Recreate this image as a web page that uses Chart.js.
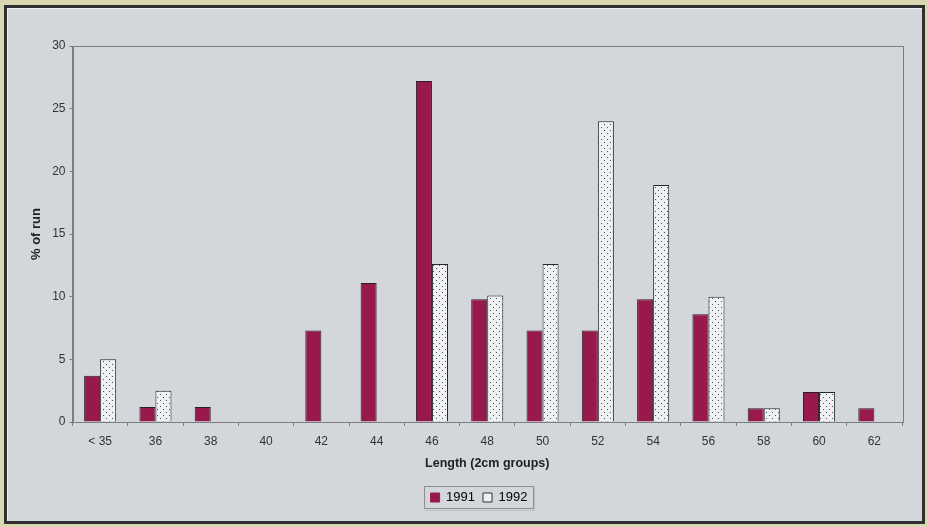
<!DOCTYPE html>
<html>
<head>
<meta charset="utf-8">
<script src="https://cdn.jsdelivr.net/npm/chart.js@4/dist/chart.umd.min.js"></script>
<style>
  html, body { margin: 0; padding: 0; background: #d9d7b2; width: 928px; height: 527px; overflow: hidden; }
  .frame {
    position: absolute; left: 4px; top: 5px; width: 915px; height: 513px;
    border: 3px solid #2e2f2f; background: #d3d6db;
    box-shadow: inset 1px 1px 0 #eef0f0;
  }
  #chart { position: absolute; left: 0; top: 0; }
</style>
</head>
<body>
<div class="frame"></div>
<canvas id="chart" width="928" height="527"></canvas>
<script>
// Length groups (2 cm) and share of the run in each, per year
const categories = ['< 35', '36', '38', '40', '42', '44', '46', '48', '50', '52', '54', '56', '58', '60', '62'];
const values1991 = [3.7, 1.2, 1.2, 0, 7.3, 11.1, 27.2, 9.8, 7.3, 7.3, 9.8, 8.6, 1.1, 2.4, 1.1];
const values1992 = [5.0, 2.5, 0, 0, 0, 0, 12.6, 10.1, 12.6, 24.0, 18.9, 10.0, 1.1, 2.4, 0];
const seriesLabels = ['1991', '1992'];
const yTicks = [0, 5, 10, 15, 20, 25, 30];

// Dotted fill for the second series
function dotPattern() {
  const c = document.createElement('canvas');
  c.width = 6; c.height = 6;
  const g = c.getContext('2d');
  g.fillStyle = '#eef0f2';
  g.fillRect(0, 0, 6, 6);
  g.fillStyle = '#4f5257';
  g.fillRect(1, 1, 1, 1);
  g.fillRect(4, 4, 1, 1);
  return g.createPattern(c, 'repeat');
}

const FONT = "'Liberation Sans', Arial, sans-serif";
const MAROON = '#981a4d';
const LEGEND_SHIFT = 28;

// Box round the plot area and a frame round the legend
const framePlugin = {
  id: 'framePlugin',
  afterLayout(chart) {
    if (chart.legend) {
      chart.legend.left += LEGEND_SHIFT;
      chart.legend.right += LEGEND_SHIFT;
    }
  },
  afterDraw(chart) {
    const { ctx, chartArea: a } = chart;
    ctx.save();
    ctx.strokeStyle = '#7b7d80';
    ctx.lineWidth = 1;
    ctx.strokeRect(Math.round(a.left) + 0.5, Math.round(a.top) + 0.5,
                   Math.round(a.right - a.left), Math.round(a.bottom - a.top));
    const boxes = chart.legend && chart.legend.legendHitBoxes;
    if (boxes && boxes.length) {
      const minX = Math.min(...boxes.map(b => b.left));
      const maxX = Math.max(...boxes.map(b => b.left + b.width));
      const minY = Math.min(...boxes.map(b => b.top));
      const maxY = Math.max(...boxes.map(b => b.top + b.height));
      ctx.strokeStyle = '#8c8e92';
      ctx.strokeRect(Math.round(minX - 7) + 0.5, Math.round(minY - 5) + 0.5,
                     Math.round(maxX - minX + 12), Math.round(maxY - minY + 9));
      ctx.strokeStyle = '#b9bbbf';
      ctx.beginPath();
      ctx.moveTo(Math.round(minX - 6) + 0.5, Math.round(maxY + 5) + 1.5);
      ctx.lineTo(Math.round(maxX + 6) + 1.5, Math.round(maxY + 5) + 1.5);
      ctx.lineTo(Math.round(maxX + 6) + 1.5, Math.round(minY - 4) + 0.5);
      ctx.stroke();
    }
    ctx.restore();
  }
};

new Chart(document.getElementById('chart'), {
  type: 'bar',
  data: {
    labels: categories,
    datasets: [
      {
        label: seriesLabels[0],
        data: values1991,
        backgroundColor: MAROON,
        borderColor: '#2d1f26',
        borderWidth: ctx => (ctx.raw ? 1 : 0),
        categoryPercentage: 0.58,
        barPercentage: 1.0
      },
      {
        label: seriesLabels[1],
        data: values1992,
        backgroundColor: dotPattern(),
        borderColor: '#25272a',
        borderWidth: ctx => (ctx.raw ? 1 : 0),
        categoryPercentage: 0.58,
        barPercentage: 1.0
      }
    ]
  },
  options: {
    responsive: false,
    animation: false,
    layout: { padding: { left: 0, top: 46, right: 26, bottom: 13 } },
    plugins: {
      tooltip: { enabled: false },
      legend: {
        position: 'bottom',
        labels: {
          color: '#222',
          font: { family: FONT, size: 13 },
          boxWidth: 9,
          boxHeight: 9,
          padding: 8,
          generateLabels(chart) {
            return chart.data.datasets.map((ds, i) => ({
              text: ds.label,
              fillStyle: i === 0 ? MAROON : '#eef0f2',
              strokeStyle: i === 0 ? MAROON : '#333',
              lineWidth: 1,
              datasetIndex: i,
              hidden: false
            }));
          }
        }
      }
    },
    scales: {
      x: {
        offset: true,
        grid: { offset: true, drawOnChartArea: false, drawTicks: true, tickLength: 4, color: '#7b7d80' },
        border: { display: true, color: '#7b7d80' },
        ticks: { color: '#333', font: { family: FONT, size: 12 }, padding: 8, maxRotation: 0, autoSkip: false },
        title: { display: true, text: 'Length (2cm groups)', color: '#222',
                 font: { family: FONT, size: 12.5, weight: 'bold' }, padding: { top: 0, bottom: 12 } },
        afterFit(scale) { scale.height = 61; }
      },
      y: {
        min: 0,
        max: 30,
        afterBuildTicks(scale) { scale.ticks = yTicks.map(v => ({ value: v })); },
        grid: { drawOnChartArea: false, drawTicks: true, tickLength: 3, color: '#7b7d80' },
        border: { display: true, color: '#7b7d80' },
        ticks: { color: '#333', font: { family: FONT, size: 12 }, padding: 4 },
        title: { display: true, text: '% of run', color: '#222',
                 font: { family: FONT, size: 13, weight: 'bold' }, padding: { top: 29, bottom: 0 } },
        afterFit(scale) { scale.width = 72.5; }
      }
    }
  },
  plugins: [framePlugin]
});
</script>
</body>
</html>
